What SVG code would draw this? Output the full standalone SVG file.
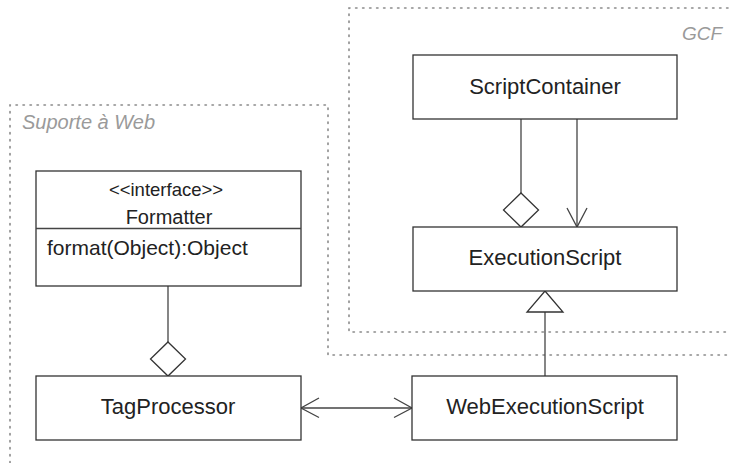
<svg xmlns="http://www.w3.org/2000/svg" width="730" height="463" viewBox="0 0 730 463">
<defs>
<style>
.pkg{fill:none;stroke:#8a8a8a;stroke-width:1.6;stroke-dasharray:1.4 5.6;stroke-linecap:round}
.pl{font-family:"Liberation Sans",Arial,sans-serif;font-style:italic;fill:#9a9a9a;font-size:19px}
.box{fill:#fff;stroke:#333;stroke-width:1.3}
.t{font-family:"Liberation Sans",Arial,sans-serif;fill:#222;font-size:22px;text-anchor:middle}
.ln{fill:none;stroke:#444;stroke-width:1.3}
.hd{fill:#fff;stroke:#333;stroke-width:1.3}
</style>
</defs>
<rect width="730" height="463" fill="#fff"/>
<g id="pkg-gcf">
<polyline class="pkg" points="735,8 349,8 349,332 735,332"/>
<text class="pl" x="722" y="40" text-anchor="end">GCF</text>
</g>
<g id="pkg-web">
<polyline class="pkg" points="10,470 10,105 328,105 328,355 735,355"/>
<text class="pl" x="22" y="129" style="font-size:20px">Suporte à Web</text>
</g>
<g id="connectors">
<line class="ln" x1="521" y1="119" x2="521" y2="193"/>
<polygon class="hd" points="521,193 538.5,210 521,227 503.5,210"/>
<line class="ln" x1="577" y1="119" x2="577" y2="227"/>
<polyline class="ln" points="567,208 577,227 587,208"/>
<line class="ln" x1="545" y1="312" x2="545" y2="376"/>
<polygon class="hd" points="545,291 563,312 527,312"/>
<line class="ln" x1="168" y1="286" x2="168" y2="342"/>
<polygon class="hd" points="168,342 185.5,359 168,376 150.5,359"/>
<line class="ln" x1="301" y1="408" x2="412" y2="408"/>
<polyline class="ln" points="319,398 301,408 319,417.5"/>
<polyline class="ln" points="394,398 412,408 394,417.5"/>
</g>
<g id="ScriptContainer">
<rect class="box" x="413" y="55" width="264" height="64"/>
<text class="t" x="545" y="94">ScriptContainer</text>
</g>
<g id="ExecutionScript">
<rect class="box" x="413" y="227" width="264" height="64"/>
<text class="t" x="545" y="265">ExecutionScript</text>
</g>
<g id="Formatter">
<rect class="box" x="36" y="171" width="265" height="115"/>
<line class="ln" x1="36" y1="228.5" x2="301" y2="228.5"/>
<text class="t" x="166" y="196" style="font-size:18.5px">&lt;&lt;interface&gt;&gt;</text>
<text class="t" x="169" y="224" style="font-size:20px">Formatter</text>
<text class="t" x="47" y="255" style="font-size:21px;text-anchor:start">format(Object):Object</text>
</g>
<g id="TagProcessor">
<rect class="box" x="36" y="376" width="265" height="64"/>
<text class="t" x="168" y="414">TagProcessor</text>
</g>
<g id="WebExecutionScript">
<rect class="box" x="412" y="376" width="265" height="64"/>
<text class="t" x="545" y="414">WebExecutionScript</text>
</g>
</svg>
